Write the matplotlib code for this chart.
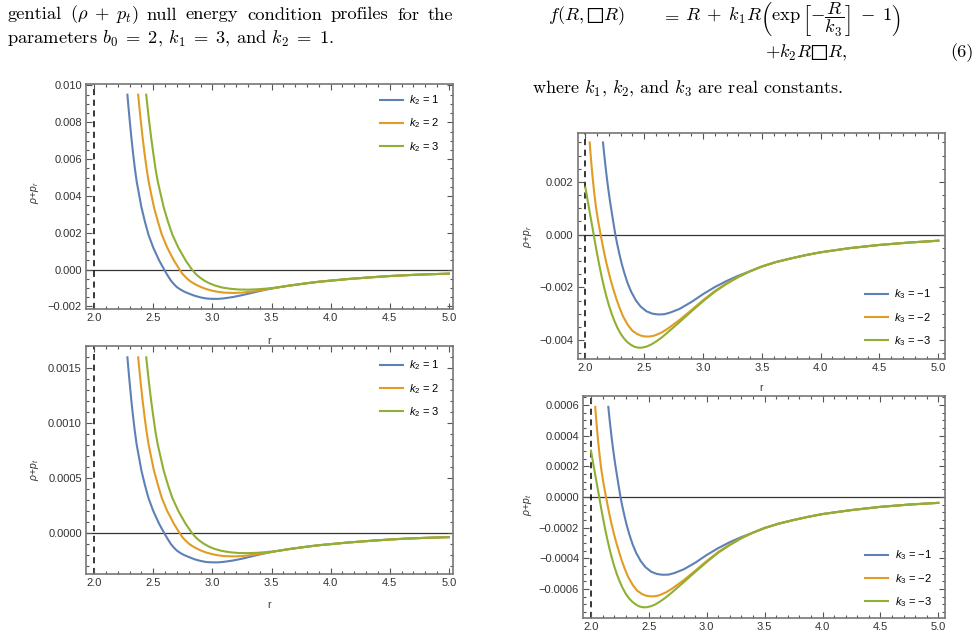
import matplotlib
matplotlib.use('Agg')
import matplotlib.pyplot as plt
from matplotlib.ticker import MultipleLocator, FuncFormatter

plt.rcParams['font.family'] = ['Liberation Sans', 'DejaVu Sans']
plt.rcParams['mathtext.fontset'] = 'custom'
plt.rcParams['mathtext.rm'] = 'Liberation Sans'
plt.rcParams['mathtext.it'] = 'Liberation Sans:italic'
plt.rcParams['mathtext.bf'] = 'Liberation Sans:bold'

c_blue, c_orange, c_green = '#5e81b5', '#e19c24', '#8fb032'

# ---------- left column (k2 = 1, 2, 3) ----------
r_l_k1 = [2.282, 2.29, 2.30, 2.315, 2.33, 2.345, 2.36, 2.38, 2.40, 2.43, 2.46, 2.50, 2.55, 2.593,
          2.62, 2.65, 2.675, 2.70, 2.73, 2.76, 2.80, 2.85, 2.90, 2.95, 3.00, 3.05, 3.10, 3.175, 3.25, 3.35, 3.45, 3.55]
r_l_k2 = [2.373, 2.382, 2.393, 2.410, 2.427, 2.444, 2.461, 2.483, 2.506, 2.540, 2.573, 2.618, 2.675, 2.723,
          2.75, 2.78, 2.81, 2.85, 2.90, 2.95, 3.00, 3.05, 3.10, 3.175, 3.25, 3.35, 3.45, 3.55]
r_l_k3 = [2.441, 2.451, 2.463, 2.482, 2.501, 2.519, 2.538, 2.563, 2.588, 2.625, 2.662, 2.712, 2.774, 2.828,
          2.86, 2.89, 2.93, 2.97, 3.02, 3.08, 3.15, 3.22, 3.30, 3.38, 3.46, 3.55]
r_l_tail = [3.65, 3.80, 3.90, 4.00, 4.15, 4.36, 4.50, 4.65, 4.80, 5.00]

# top-left panel: rho + p_r
pr_steep = [0.0095, 0.0089, 0.0082, 0.0072, 0.0063, 0.0055, 0.0048, 0.0041, 0.0034, 0.0026, 0.0019, 0.0012, 0.0005, 0.0]
pr_k1 = [-0.0003, -0.0006, -0.00079, -0.00095, -0.00108, -0.00119, -0.0013, -0.00142, -0.00151, -0.00157,
         -0.00159, -0.00159, -0.00156, -0.00149, -0.00139, -0.00124, -0.00109, -0.00097]
pr_k2 = [-0.00025, -0.00045, -0.00062, -0.00078, -0.00094, -0.00106, -0.00115, -0.00121, -0.00125, -0.00127,
         -0.00125, -0.00118, -0.00108, -0.00097]
pr_k3 = [-0.00024, -0.00041, -0.00059, -0.00073, -0.00086, -0.00097, -0.00104, -0.00108, -0.00109, -0.00107,
         -0.00103, -0.00097]
pr_tail = [-0.00087, -0.00074, -0.00066, -0.0006, -0.00051, -0.00041, -0.00035, -0.0003, -0.00026, -0.00022]

# bottom-left panel: rho + p_t
pt_steep = [0.0016, 0.0015, 0.00138, 0.00121, 0.00106, 0.000924, 0.000807, 0.000689, 0.000571, 0.000437,
            0.000319, 0.000202, 0.000084, 0.0]
pt_k1 = [-0.00005, -0.000101, -0.000133, -0.00016, -0.000182, -0.0002, -0.000218, -0.000239, -0.000254, -0.000264,
         -0.000267, -0.000267, -0.000262, -0.00025, -0.000234, -0.000208, -0.000183, -0.000163]
pt_k2 = [-0.000042, -0.000076, -0.000104, -0.000131, -0.000158, -0.000178, -0.000193, -0.000203, -0.00021, -0.000213,
         -0.00021, -0.000198, -0.000182, -0.000163]
pt_k3 = [-0.00004, -0.000069, -0.000099, -0.000123, -0.000145, -0.000163, -0.000175, -0.000182, -0.000183, -0.00018,
         -0.000173, -0.000163]
pt_tail = [-0.000146, -0.000124, -0.000111, -0.000101, -0.000086, -0.000069, -0.000059, -0.00005, -0.000044, -0.000037]

# ---------- right column (k3 = -1, -2, -3) ----------
r_r_m1 = [2.15, 2.16, 2.17, 2.18, 2.19, 2.20, 2.21, 2.22, 2.235, 2.255, 2.27, 2.29, 2.31, 2.333, 2.36, 2.39, 2.43,
          2.47, 2.52, 2.57, 2.62, 2.67, 2.72, 2.80, 2.90, 3.00, 3.10, 3.20, 3.30, 3.40, 3.50]
r_r_m2 = [2.037, 2.045, 2.055, 2.065, 2.077, 2.09, 2.11, 2.13, 2.155, 2.178, 2.20, 2.22, 2.24, 2.263, 2.29, 2.32,
          2.363, 2.40, 2.44, 2.47, 2.50, 2.535, 2.57, 2.60, 2.65, 2.70, 2.80, 2.90, 3.00, 3.10, 3.20, 3.30, 3.40, 3.50]
r_r_m3 = [2.0, 2.012, 2.024, 2.036, 2.048, 2.06, 2.071, 2.085, 2.10, 2.12, 2.14, 2.16, 2.178, 2.20, 2.225, 2.25,
          2.272, 2.30, 2.33, 2.36, 2.39, 2.42, 2.45, 2.48, 2.52, 2.56, 2.60, 2.65, 2.70, 2.80, 2.90, 3.00, 3.10, 3.20,
          3.30, 3.40, 3.50]
r_r_tail = [3.62, 3.75, 3.87, 4.00, 4.25, 4.50, 4.75, 5.00]

# top-right panel: rho + p_r
qr_m1 = [0.0035, 0.00306, 0.00265, 0.00226, 0.0019, 0.00157, 0.00126, 0.00097, 0.00055, 0.0, -0.00034, -0.00075,
         -0.00112, -0.00148, -0.00185, -0.00217, -0.0025, -0.00273, -0.00291, -0.003, -0.00303, -0.00302, -0.00296,
         -0.00282, -0.00256, -0.00226, -0.00199, -0.00176, -0.00156, -0.00139, -0.00121]
qr_m2 = [0.0035, 0.00303, 0.0025, 0.00203, 0.00153, 0.00105, 0.00048, 0.0, -0.00058, -0.00106, -0.00146, -0.0018,
         -0.0021, -0.00243, -0.00277, -0.0031, -0.00344, -0.00365, -0.00377, -0.00383, -0.00386, -0.00387, -0.00385,
         -0.00381, -0.00371, -0.00357, -0.00324, -0.00287, -0.00249, -0.00214, -0.00185, -0.0016, -0.00139, -0.00121]
qr_m3 = [0.0018, 0.00149, 0.00118, 0.00088, 0.00058, 0.00028, 0.0, -0.00036, -0.00073, -0.00119, -0.00162, -0.00201,
         -0.00233, -0.00268, -0.00302, -0.00331, -0.00353, -0.00376, -0.00395, -0.00409, -0.00419, -0.00426, -0.00429,
         -0.00429, -0.00425, -0.00417, -0.00406, -0.0039, -0.00371, -0.00332, -0.00292, -0.00253, -0.00217, -0.00187,
         -0.00161, -0.00139, -0.00121]
qr_tail = [-0.00104, -0.0009, -0.00078, -0.00067, -0.00051, -0.00039, -0.0003, -0.00023]

# bottom-right panel: rho + p_t
qt_m1 = [0.000587, 0.000513, 0.000445, 0.000379, 0.000319, 0.000263, 0.000211, 0.000163, 0.000092, 0.0, -0.000057,
         -0.000126, -0.000188, -0.000248, -0.00031, -0.000364, -0.000419, -0.000458, -0.000488, -0.000503, -0.000508,
         -0.000507, -0.000497, -0.000473, -0.00043, -0.000379, -0.000334, -0.000295, -0.000262, -0.000233, -0.000203]
qt_m2 = [0.000587, 0.000508, 0.000419, 0.000341, 0.000257, 0.000176, 0.000081, 0.0, -0.000097, -0.000178, -0.000245,
         -0.000302, -0.000352, -0.000408, -0.000465, -0.00052, -0.000577, -0.000612, -0.000633, -0.000643, -0.000648,
         -0.000649, -0.000646, -0.000639, -0.000622, -0.000599, -0.000544, -0.000482, -0.000418, -0.000359, -0.00031,
         -0.000268, -0.000233, -0.000203]
qt_m3 = [0.000302, 0.00025, 0.000198, 0.000148, 0.000097, 0.000047, 0.0, -0.00006, -0.000122, -0.0002, -0.000272,
         -0.000337, -0.000391, -0.00045, -0.000507, -0.000555, -0.000592, -0.000631, -0.000663, -0.000686, -0.000703,
         -0.000715, -0.00072, -0.00072, -0.000713, -0.0007, -0.000681, -0.000654, -0.000623, -0.000557, -0.00049,
         -0.000425, -0.000364, -0.000314, -0.00027, -0.000233, -0.000203]
qt_tail = [-0.000175, -0.000151, -0.000131, -0.000112, -0.000086, -0.000065, -0.00005, -0.000039]

k2_labels = [r'$k_2$ = 1', r'$k_2$ = 2', r'$k_2$ = 3']
k3_labels = [r'$k_3$ = $-$1', r'$k_3$ = $-$2', r'$k_3$ = $-$3']

W, H = 975, 638
fig = plt.figure(figsize=(W / 100, H / 100), dpi=100)


def box(l, t, r, b):
    return [l / W, 1 - b / H, (r - l) / W, (b - t) / H]


def px(x, y):
    return x / W, 1 - y / H


def yfmt(d):
    def f(v, pos):
        if abs(v) < 1e-12:
            v = 0.0
        return f'{v:.{d}f}'.replace('-', '\u2212')
    return FuncFormatter(f)


def style(ax, xlim, ylim, ymaj, ymin, ydec):
    ax.set_xlim(xlim)
    ax.set_ylim(ylim)
    ax.xaxis.set_major_locator(MultipleLocator(0.5))
    ax.xaxis.set_minor_locator(MultipleLocator(0.1))
    ax.yaxis.set_major_locator(MultipleLocator(ymaj))
    ax.yaxis.set_minor_locator(MultipleLocator(ymin))
    ax.xaxis.set_major_formatter(FuncFormatter(lambda v, p: f'{v:.1f}'))
    ax.yaxis.set_major_formatter(yfmt(ydec))
    ax.tick_params(which='both', direction='in', top=True, right=True,
                   color='#555555', labelcolor='#333333', labelsize=8, width=0.8, pad=3)
    ax.tick_params(which='major', length=4)
    ax.tick_params(which='minor', length=2)
    for s in ax.spines.values():
        s.set_color('#777777')
        s.set_linewidth(1.2)
    ax.axhline(0, color='#333333', lw=0.9, zorder=1)
    ax.axvline(2.0, color='black', lw=1.1, ls=(0, (4, 3)), zorder=1)


def curves(ax, rs, ys, labels, anchor):
    for r, y, c, lab in zip(rs, ys, [c_blue, c_orange, c_green], labels):
        ax.plot(r, y, color=c, lw=1.5, label=lab, zorder=3, solid_joinstyle='round')
    ax.legend(loc='upper left', bbox_to_anchor=anchor, frameon=False, fontsize=8,
              handlelength=2.1, handletextpad=0.55, labelspacing=0.85,
              borderpad=0, borderaxespad=0)


rl = [r_l_k1 + r_l_tail, r_l_k2 + r_l_tail, r_l_k3 + r_l_tail]
rr = [r_r_m1 + r_r_tail, r_r_m2 + r_r_tail, r_r_m3 + r_r_tail]

# top-left
ax1 = fig.add_axes(box(86, 84, 453, 309))
style(ax1, (1.932, 5.034), (-0.00214, 0.01008), 0.002, 0.0005, 3)
curves(ax1, rl, [pr_steep + pr_k1 + pr_tail, pr_steep + pr_k2 + pr_tail, pr_steep + pr_k3 + pr_tail],
       k2_labels, (0.801, 0.958))

# bottom-left
ax2 = fig.add_axes(box(86, 346, 453, 574))
style(ax2, (1.932, 5.034), (-0.000373, 0.001703), 0.0005, 0.0001, 4)
curves(ax2, rl, [pt_steep + pt_k1 + pt_tail, pt_steep + pt_k2 + pt_tail, pt_steep + pt_k3 + pt_tail],
       k2_labels, (0.801, 0.945))

# top-right
ax3 = fig.add_axes(box(577.7, 132.7, 945, 359))
style(ax3, (1.935, 5.057), (-0.00472, 0.00387), 0.002, 0.0005, 3)
curves(ax3, rr, [qr_m1 + qr_tail, qr_m2 + qr_tail, qr_m3 + qr_tail], k3_labels, (0.782, 0.316))

# bottom-right
ax4 = fig.add_axes(box(583.3, 396, 945, 618))
style(ax4, (1.934, 5.058), (-0.00079, 0.000658), 0.0002, 0.00005, 4)
curves(ax4, rr, [qt_m1 + qt_tail, qt_m2 + qt_tail, qt_m3 + qt_tail], k3_labels, (0.779, 0.313))

# axis labels
lab_kw = dict(fontsize=7.5, color='#333333', ha='center', va='center')
fig.text(*px(35, 193), r'$\rho$+$p_r$', rotation=90, **lab_kw)
fig.text(*px(35, 470), r'$\rho$+$p_t$', rotation=90, **lab_kw)
fig.text(*px(528, 237), r'$\rho$+$p_r$', rotation=90, **lab_kw)
fig.text(*px(528, 505), r'$\rho$+$p_t$', rotation=90, **lab_kw)
fig.text(*px(269, 341), 'r', **lab_kw)
fig.text(*px(269, 605), 'r', **lab_kw)
fig.text(*px(761, 388), 'r', **lab_kw)

# surrounding paper text
BOX = '\u25a1'
tx = dict(fontsize=13.3, family='cmr10', math_fontfamily='cm', color='black', va='baseline')
# first line is justified: place word by word
line1 = [(7, 'gential'), (70, r'$(\rho\;+\;p_t)$'), (146.5, 'null'), (186, 'energy'),
         (247, 'condition'), (330.5, 'profiles'), (397, 'for'), (427.4, 'the')]
for x, w in line1:
    fig.text(*px(x, 19.5), w, **tx)
fig.text(*px(7, 43), r'parameters $b_0\;=\;2$, $k_1\;=\;3$, and $k_2\;=\;1$.', **tx)
fig.text(*px(548, 20), r'$f(R,' + BOX + r'R)$', **tx)
fig.text(*px(661, 20), r'$=$', **tx)
fig.text(*px(685, 20), r'$R\;+\;k_1R\left(\exp\left[-\dfrac{R}{k_3}\right]\;-\;1\right)$', **tx)
fig.text(*px(765, 57), r'$+k_2R' + BOX + r'R,$', **tx)
fig.text(*px(950, 57), '(6)', **tx)
fig.text(*px(532, 93), r'where $k_1$, $k_2$, and $k_3$ are real constants.', fontsize=13.0,
         family='cmr10', math_fontfamily='cm', color='black', va='baseline')

plt.savefig('out.png', dpi=100, facecolor='white')
